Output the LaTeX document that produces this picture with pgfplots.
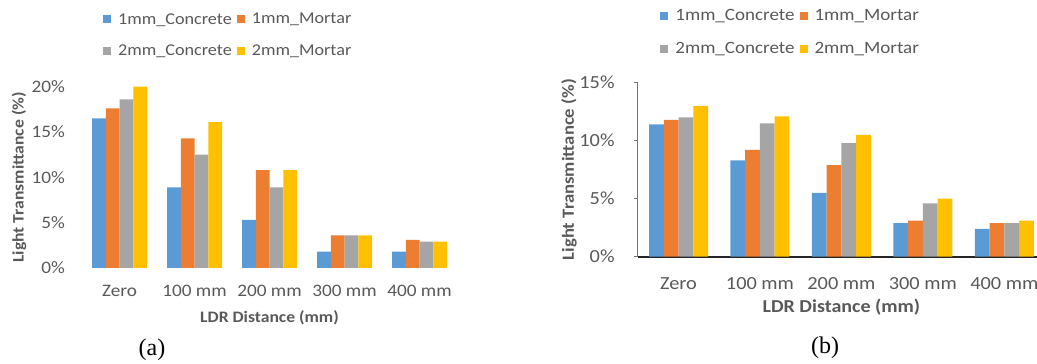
\documentclass[border=0pt]{standalone}
\usepackage{pgfplots}
\pgfplotsset{compat=1.18}
\usepackage{pgfplotstable}
\usepackage{fontspec}
\setmainfont[FakeStretch=1.1]{Carlito}
\newfontfamily\capfont{Liberation Serif}
\definecolor{cA}{HTML}{5B9BD5}
\definecolor{cB}{HTML}{ED7D31}
\definecolor{cC}{HTML}{A5A5A5}
\definecolor{cD}{HTML}{FFC000}
\definecolor{txt}{HTML}{595959}

\pgfplotstableread{
x CA MA CB MB
0 16.5 17.6 18.6 20.0
1 8.9 14.3 12.5 16.1
2 5.3 10.8 8.9 10.8
3 1.8 3.6 3.6 3.6
4 1.8 3.1 2.9 2.9
}\dataA
\pgfplotstableread{
x CA MA CB MB
0 11.4 11.8 12.0 13.0
1 8.3 9.2 11.5 12.1
2 5.5 7.9 9.8 10.5
3 2.9 3.1 4.6 5.0
4 2.4 2.9 2.9 3.1
}\dataB

\pgfplotsset{
  mybars/.style={
    scale only axis, ybar=0pt, xmin=-0.5, xmax=4.5, ymin=0,
    xtick={0,1,2,3,4}, xticklabels={Zero,100 mm,200 mm,300 mm,400 mm},
    xticklabel style={anchor=base, inner sep=0pt, yshift=-29pt, text=txt},
    yticklabel style={anchor=east, inner sep=0pt, text=txt},
    axis x line*=bottom, axis y line*=left,
    xtick style={draw=none},
    legend columns=2, legend cell align=left,
    legend style={draw=none, fill=none, inner sep=0pt, anchor=west, text=txt,
      nodes={inner sep=0pt},
      /tikz/every odd column/.append style={column sep=7pt},
      /tikz/every even column/.append style={column sep=5pt}},
    legend image code/.code={\path[#1,draw=none] (0pt,-4pt) rectangle (8pt,4pt);},
    xlabel={\bfseries LDR Distance (mm)},
    ylabel={\bfseries Light Transmittance (\%)},
    label style={text=txt},
    clip=false,
  }
}

\begin{document}
\begin{tikzpicture}
\path[use as bounding box] (0,0) rectangle (1037pt,364pt);

% (a)
\begin{axis}[mybars,
  at={(82pt,96pt)}, anchor=south west,
  width=375pt, height=181.3pt, ymax=20,
  bar width=13.75pt,
  ytick={0,5,10,15,20}, yticklabels={0\%,5\%,10\%,15\%,20\%},
  yticklabel style={xshift=-17pt},
  axis line style={draw=none}, major tick length=0pt,
  font=\fontsize{17.5}{21}\selectfont,
  legend style={at={(0.056,1.285)}, font=\fontsize{16.5}{20}\selectfont, row sep=19pt},
  xlabel style={at={(axis description cs:0.5,-0.276)}, anchor=center, font=\fontsize{16}{19}\selectfont},
  ylabel style={at={(axis description cs:-0.168,0.5)}, anchor=center, font=\fontsize{16}{19}\selectfont},
]
\addplot[fill=cA, draw=none] table[x=x, y=CA] {\dataA};
\addplot[fill=cB, draw=none] table[x=x, y=MA] {\dataA};
\addplot[fill=cC, draw=none] table[x=x, y=CB] {\dataA};
\addplot[fill=cD, draw=none] table[x=x, y=MB] {\dataA};
\legend{1mm\_Concrete, 1mm\_Mortar, 2mm\_Concrete, 2mm\_Mortar}
\end{axis}

% (b)
\begin{axis}[mybars,
  at={(637.8pt,107.3pt)}, anchor=south west,
  width=407.2pt, height=174pt, ymax=15,
  bar width=14.75pt,
  ytick={0,5,10,15}, yticklabels={0\%,5\%,10\%,15\%},
  yticklabel style={xshift=-19pt},
  tick align=outside, major tick length=4pt,
  ytick style={draw=black!55, line width=0.8pt},
  x axis line style={draw=black!85, line width=2pt},
  y axis line style={draw=black!55, line width=0.9pt},
  font=\fontsize{18.5}{22}\selectfont,
  legend style={at={(0.055,1.29)}, font=\fontsize{17.3}{20}\selectfont, row sep=20pt},
  xlabel style={at={(axis description cs:0.5,-0.287)}, anchor=center, font=\fontsize{18.2}{21}\selectfont},
  ylabel style={at={(axis description cs:-0.169,0.5)}, anchor=center, font=\fontsize{17}{20}\selectfont},
]
\addplot[fill=cA, draw=none] table[x=x, y=CA] {\dataB};
\addplot[fill=cB, draw=none] table[x=x, y=MA] {\dataB};
\addplot[fill=cC, draw=none] table[x=x, y=CB] {\dataB};
\addplot[fill=cD, draw=none] table[x=x, y=MB] {\dataB};
\legend{1mm\_Concrete, 1mm\_Mortar, 2mm\_Concrete, 2mm\_Mortar}
\end{axis}

\node[font=\capfont\fontsize{24}{28}\selectfont] at (152pt,14pt) {(a)};
\node[font=\capfont\fontsize{24}{28}\selectfont] at (825pt,16pt) {(b)};
\end{tikzpicture}
\end{document}
